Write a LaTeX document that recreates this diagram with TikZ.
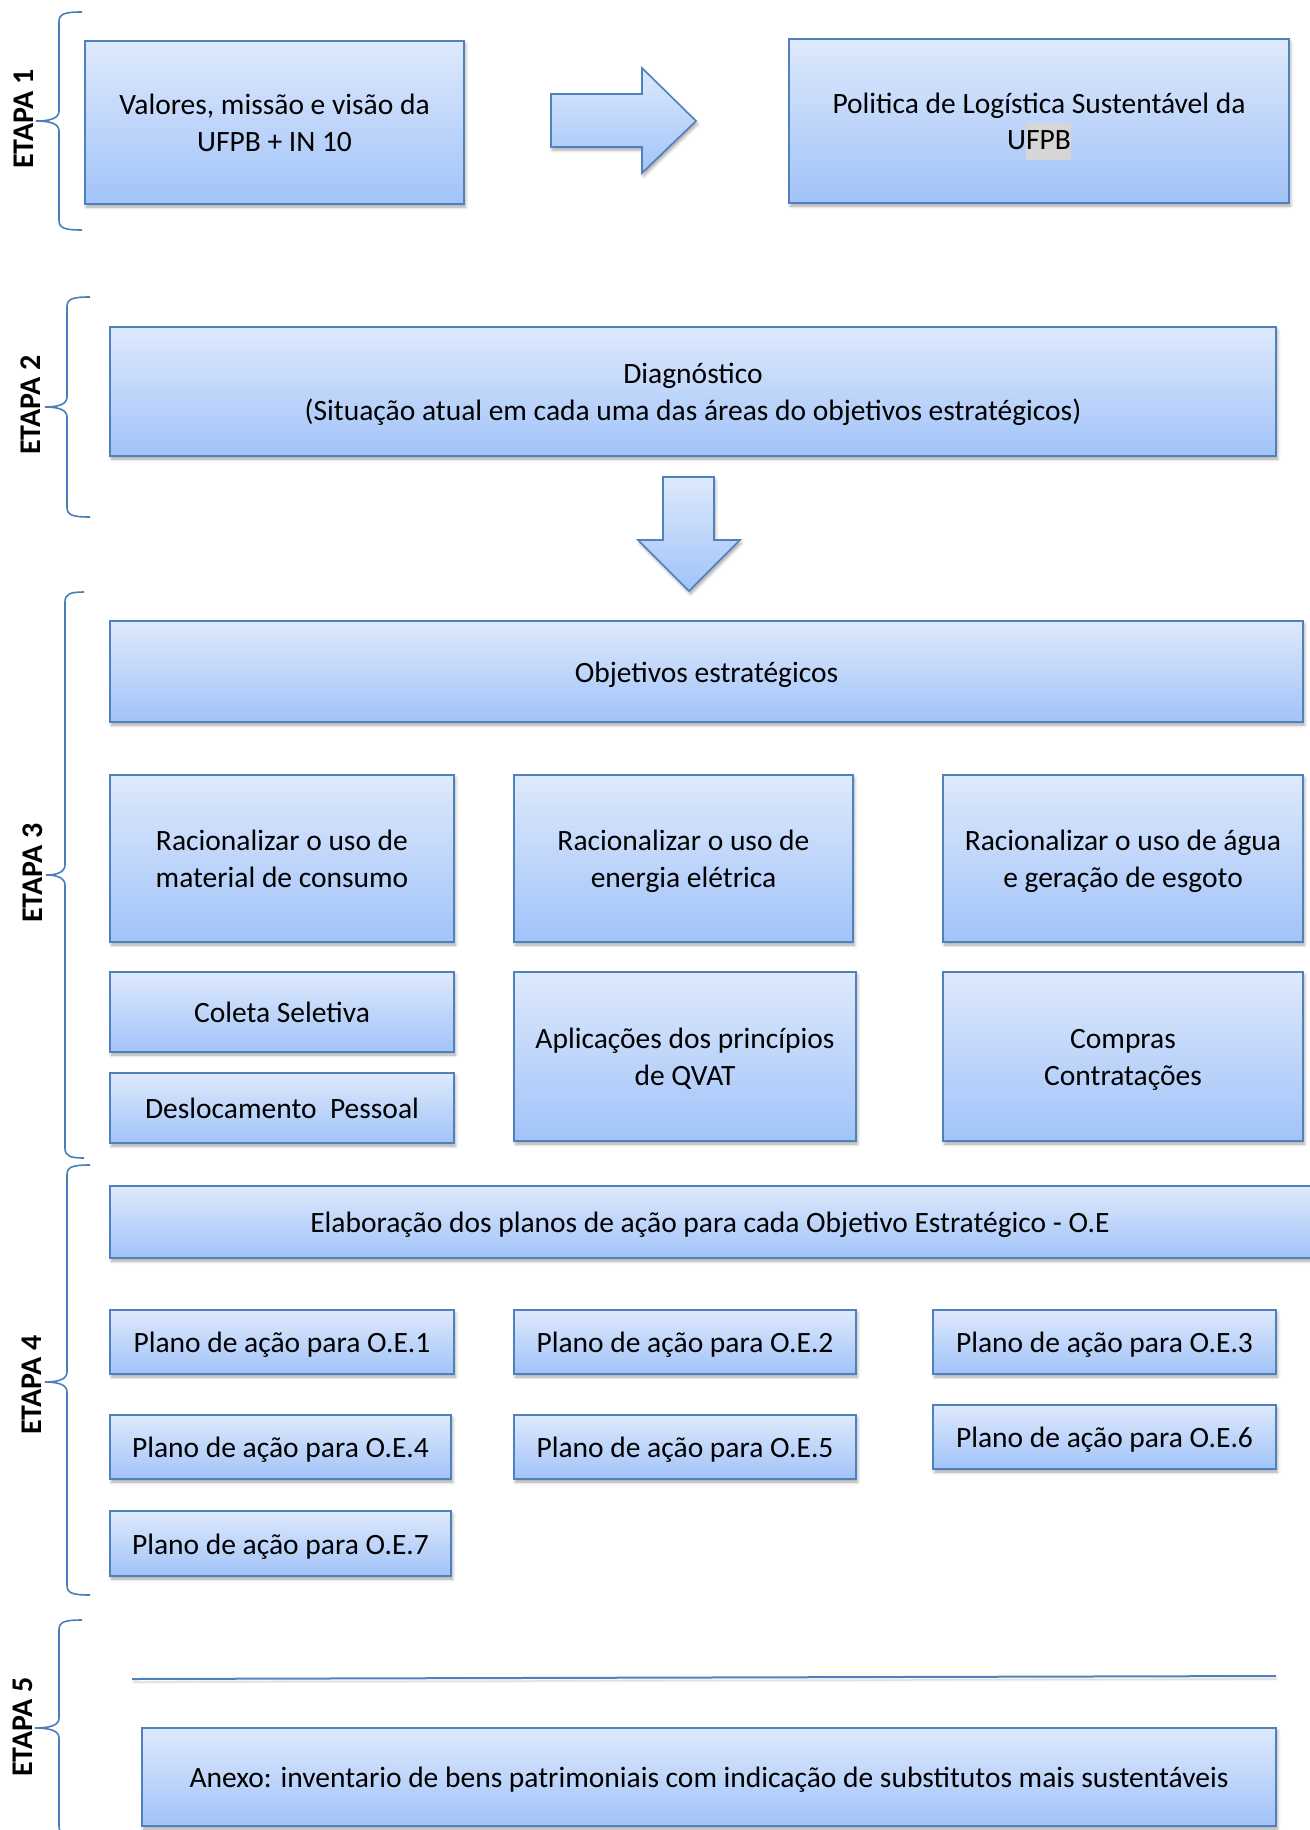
\documentclass[tikz,border=0pt]{standalone}
\usepackage{fontspec}
\setmainfont{Carlito}
\usetikzlibrary{shadows.blur}
\definecolor{boxtop}{RGB}{222,233,252}
\definecolor{boxbot}{RGB}{161,195,248}
\definecolor{bordercol}{RGB}{79,129,189}
\definecolor{bracecol}{RGB}{74,126,187}
\definecolor{hlgray}{RGB}{214,214,214}
\newcommand{\lh}{\rule[-7pt]{0pt}{35pt}}
\newcommand{\hlh}{\rule[-10pt]{0pt}{37pt}}
\tikzset{
  bx/.style={draw=bordercol, line width=1.6pt, top color=boxtop, bottom color=boxbot,
    blur shadow={shadow xshift=1.5pt, shadow yshift=-3pt, shadow blur radius=3pt, shadow opacity=35},
    align=center, font=\fontsize{29.5}{36.5}\selectfont, inner sep=0pt, text=black},
  blockarrow/.style={draw=bordercol, line width=1.6pt, top color=boxtop, bottom color=boxbot,
    line join=miter,
    blur shadow={shadow xshift=1.5pt, shadow yshift=-3pt, shadow blur radius=3pt, shadow opacity=35}},
  brc/.style={draw=bracecol, line width=1.6pt},
  etapa/.style={rotate=90, font=\fontsize{30}{36}\selectfont\bfseries, inner sep=0pt}
}
\newcommand{\mybrace}[6]{%
  \draw[brc] (#6,#2) .. controls (#1+5,#2) and (#1,#2+2) .. (#1,#2+10) -- (#1,#3-10)
    .. controls (#1,#3-3) and (#1-8,#3) .. (#5,#3)
    .. controls (#1-8,#3) and (#1,#3+3) .. (#1,#3+10) -- (#1,#4-10)
    .. controls (#1,#4-2) and (#1+5,#4) .. (#6,#4);}
\begin{document}
\begin{tikzpicture}[x=1pt,y=-1pt]
\useasboundingbox (0,0) rectangle (1309,1830);

% ETAPA 1
\mybrace{59}{12}{121}{230}{36}{82}
\node[etapa] (e1) at (24,119) {ETAPA 1};
\node[bx, minimum width=379pt, minimum height=163pt] (b1) at (274.5,122.5) {\lh Valores, missão e visão da\\\lh UFPB + IN 10};
\path[blockarrow] (551,94) -- (642,94) -- (642,68) -- (696,121) -- (642,173) -- (642,147) -- (551,147) -- cycle;
\node[bx, minimum width=500pt, minimum height=164pt] (b2) at (1039,121) {\lh Politica de Logística Sustentável da\\\lh U\smash{\setlength{\fboxsep}{0pt}\colorbox{hlgray}{\hlh FPB}}};

% ETAPA 2
\mybrace{67}{297}{407}{517}{45}{90}
\node[etapa] (e2) at (31,405) {ETAPA 2};
\node[bx, minimum width=1166pt, minimum height=129pt] (diag) at (693,391.5) {\lh Diagnóstico\\\lh (Situação atual em cada uma das áreas do objetivos estratégicos)};
\path[blockarrow] (663,477) -- (714,477) -- (714,540) -- (740,540) -- (689,591) -- (638,540) -- (663,540) -- cycle;

% ETAPA 3
\mybrace{65}{592}{875}{1158}{46}{84}
\node[etapa] (e3) at (33,873) {ETAPA 3};
\node[bx, minimum width=1193pt, minimum height=101pt] (obj) at (706.5,671.5) {\lh Objetivos estratégicos};
\node[bx, minimum width=344pt, minimum height=167pt] (oa) at (282,858.5) {\lh Racionalizar o uso de\\\lh material de consumo};
\node[bx, minimum width=339pt, minimum height=167pt] (ob) at (683.5,858.5) {\lh Racionalizar o uso de\\\lh energia elétrica};
\node[bx, minimum width=360pt, minimum height=167pt] (oc) at (1123,858.5) {\lh Racionalizar o uso de água\\\lh e geração de esgoto};
\node[bx, minimum width=344pt, minimum height=80pt] (col) at (282,1012) {\lh Coleta Seletiva};
\node[bx, minimum width=344pt, minimum height=70pt] (des) at (282,1108) {\lh Deslocamento\ \ Pessoal};
\node[bx, minimum width=342pt, minimum height=169pt] (apl) at (685,1056.5) {\lh Aplicações dos princípios\\\lh de QVAT};
\node[bx, minimum width=360pt, minimum height=169pt] (com) at (1123,1056.5) {\lh Compras\\\lh Contratações};

% ETAPA 4
\mybrace{67}{1165}{1382}{1595}{45}{90}
\node[etapa] (e4) at (32,1385) {ETAPA 4};
\node[bx, minimum width=1212pt, minimum height=72pt] (elab) at (716,1222) {\hspace*{-12pt}\lh Elaboração dos planos de ação para cada Objetivo Estratégico - O.E};
\node[bx, minimum width=344pt, minimum height=64pt] (p1) at (282,1342) {\lh Plano de ação para O.E.1};
\node[bx, minimum width=342pt, minimum height=64pt] (p2) at (685,1342) {\lh Plano de ação para O.E.2};
\node[bx, minimum width=343pt, minimum height=64pt] (p3) at (1104.5,1342) {\lh Plano de ação para O.E.3};
\node[bx, minimum width=341pt, minimum height=64pt] (p4) at (280.5,1447) {\lh Plano de ação para O.E.4};
\node[bx, minimum width=342pt, minimum height=64pt] (p5) at (685,1447) {\lh Plano de ação para O.E.5};
\node[bx, minimum width=343pt, minimum height=64pt] (p6) at (1104.5,1437) {\lh Plano de ação para O.E.6};
\node[bx, minimum width=341pt, minimum height=65pt] (p7) at (280.5,1543.5) {\lh Plano de ação para O.E.7};

% ETAPA 5
\mybrace{59}{1620}{1728}{1836}{35}{82}
\node[etapa] (e5) at (23,1727) {ETAPA 5};
\coordinate (la) at (132,1679);
\coordinate (lb) at (1276,1676);
\draw[draw=bordercol, line width=2pt, blur shadow={shadow xshift=1pt, shadow yshift=-3pt, shadow blur radius=2pt, shadow opacity=25}] (la) -- (lb);
\node[bx, minimum width=1134pt, minimum height=98pt] (anexo) at (709,1777) {\lh Anexo: inventario de bens patrimoniais com indicação de substitutos mais sustentáveis};
\end{tikzpicture}
\end{document}
